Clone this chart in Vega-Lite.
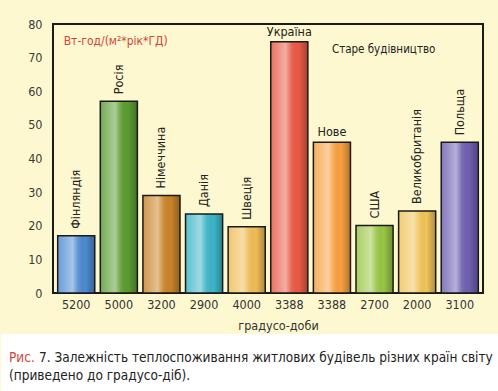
{
  "$schema": "https://vega.github.io/schema/vega-lite/v6.json",
  "background": "#fdf8cf",
  "padding": {"left": 0, "top": 17, "right": 0, "bottom": 0},
  "spacing": 1,
  "config": {
    "font": "DejaVu Sans Condensed, sans-serif",
    "view": {"stroke": null}
  },
  "datasets": {
    "bars": [
      {"country": "Фінляндія", "degreeDays": "5200", "value": 17},
      {"country": "Росія", "degreeDays": "5000", "value": 57},
      {"country": "Німеччина", "degreeDays": "3200", "value": 29},
      {"country": "Данія", "degreeDays": "2900", "value": 23.5},
      {"country": "Швеція", "degreeDays": "4000", "value": 19.7},
      {"country": "Україна", "degreeDays": "3388", "value": 74.7},
      {"country": "Нове", "degreeDays": "3388", "value": 44.8},
      {"country": "США", "degreeDays": "2700", "value": 20.1},
      {"country": "Великобританія", "degreeDays": "2000", "value": 24.4},
      {"country": "Польща", "degreeDays": "3100", "value": 44.8}
    ],
    "caption": [
      {"prefix": "Рис.", "line1": "7. Залежність теплоспоживання житлових будівель різних країн світу", "line2": "(приведено до градусо-діб).", "start": 0, "end": 1}
    ]
  },
  "vconcat": [
    {
      "width": 430,
      "height": 269,
      "view": {"stroke": "#1a1a1a", "strokeWidth": 2},
      "data": {"name": "bars"},
      "encoding": {
        "x": {
          "field": "country", "type": "nominal", "sort": null,
          "scale": {"paddingInner": 0.13, "paddingOuter": 0.11},
          "axis": {"title": "градусо-доби", "labels": false, "ticks": false, "domain": false,
                   "titlePadding": 26, "titleFontSize": 12.5, "titleFontWeight": "normal", "titleColor": "#333", "titleX": 225}
        },
        "y": {"field": "value", "type": "quantitative", "scale": {"domain": [0, 80]},
              "axis": {"title": null, "ticks": false, "domain": false, "grid": false,
                       "values": [0, 10, 20, 30, 40, 50, 60, 70, 80], "labelOverlap": false, "labelPadding": 11,
                       "labelFontSize": 12.5, "labelColor": "#3a3a3a", "labelFlush": false,
                       "minExtent": 52, "maxExtent": 52}}
      },
      "layer": [
        {
          "mark": {"type": "bar"},
          "encoding": {
            "color": {"field": "country", "type": "nominal", "legend": null,
                      "scale": {"domain": ["Фінляндія","Росія","Німеччина","Данія","Швеція","Україна","Нове","США","Великобританія","Польща"],
                                "range": ["#4d8ad0","#5c9c32","#c98328","#3cb6c8","#f0bc55","#e85a45","#f7a040","#98c645","#f0c458","#6e60b0"]}}
          }
        },
        {
          "mark": {
            "type": "bar", "stroke": "#1a1a1a", "strokeWidth": 1.5,
            "color": {"gradient": "linear", "x1": 0, "y1": 0, "x2": 1, "y2": 0,
                      "stops": [
                        {"offset": 0, "color": "rgba(255,255,255,0.15)"},
                        {"offset": 0.4, "color": "rgba(255,255,255,0.5)"},
                        {"offset": 0.55, "color": "rgba(255,255,255,0.1)"},
                        {"offset": 0.75, "color": "rgba(0,0,0,0)"},
                        {"offset": 1, "color": "rgba(0,0,0,0.28)"}
                      ]}
          }
        },
        {
          "transform": [{"filter": "datum.country !== 'Україна' && datum.country !== 'Нове'"}],
          "mark": {"type": "text", "angle": 270, "align": "left", "baseline": "middle", "dx": 7, "fontSize": 12.5, "color": "#222"},
          "encoding": {"text": {"field": "country"}}
        },
        {
          "transform": [{"filter": "datum.country === 'Україна' || datum.country === 'Нове'"}],
          "mark": {"type": "text", "align": "center", "baseline": "bottom", "dy": -3, "fontSize": 12.5, "color": "#222"},
          "encoding": {"text": {"field": "country"}}
        },
        {
          "mark": {"type": "text", "baseline": "top", "dy": 6, "fontSize": 12.5, "color": "#333"},
          "encoding": {"y": {"datum": 0, "type": "quantitative"}, "text": {"field": "degreeDays"}}
        },
        {
          "data": {"values": [{"note": "Вт-год/(м²*рік*ГД)", "anchor": "Фінляндія", "level": 75}]},
          "mark": {"type": "text", "align": "left", "baseline": "middle", "dx": 6, "fontSize": 12, "color": "#d2463c"},
          "encoding": {
            "x": {"field": "anchor", "type": "nominal", "sort": null, "bandPosition": 0},
            "y": {"field": "level", "type": "quantitative"},
            "text": {"field": "note"}
          }
        },
        {
          "data": {"values": [{"note": "Старе будівництво", "anchor": "Нове", "level": 72.3}]},
          "mark": {"type": "text", "align": "left", "baseline": "middle", "fontSize": 11.5, "color": "#222"},
          "encoding": {
            "x": {"field": "anchor", "type": "nominal", "sort": null},
            "y": {"field": "level", "type": "quantitative"},
            "text": {"field": "note"}
          }
        }
      ]
    },
    {
      "width": 446,
      "height": 58,
      "data": {"name": "caption"},
      "encoding": {
        "x": {"field": "start", "type": "quantitative", "scale": {"domain": [0, 1], "range": [-52, 446]}, "axis": null}
      },
      "layer": [
        {
          "mark": {"type": "rect", "color": "#ffffff"},
          "encoding": {"x2": {"field": "end"}}
        },
        {
          "mark": {"type": "text", "align": "left", "baseline": "middle", "dx": 8, "dy": -5, "fontSize": 13.5, "color": "#d2463c"},
          "encoding": {"text": {"field": "prefix"}}
        },
        {
          "mark": {"type": "text", "align": "left", "baseline": "middle", "dx": 38, "dy": -5, "fontSize": 13.5, "color": "#222"},
          "encoding": {"text": {"field": "line1"}}
        },
        {
          "mark": {"type": "text", "align": "left", "baseline": "middle", "dx": 8, "dy": 13, "fontSize": 13.5, "color": "#222"},
          "encoding": {"text": {"field": "line2"}}
        }
      ]
    }
  ]
}
